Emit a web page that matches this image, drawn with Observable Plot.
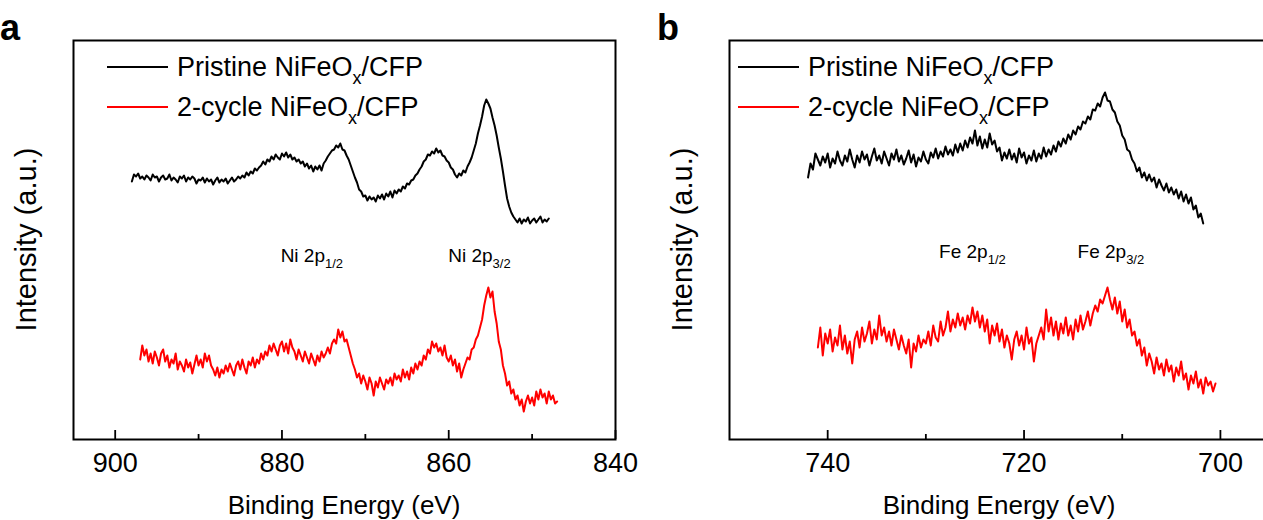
<!DOCTYPE html>
<html>
<head>
<meta charset="utf-8">
<script src="https://cdn.jsdelivr.net/npm/d3@7"></script>
<script src="https://cdn.jsdelivr.net/npm/@observablehq/plot@0.6"></script>
<style>
html, body { margin: 0; padding: 0; overflow: hidden; background: #fff; }
#root { position: relative; width: 1263px; height: 520px; overflow: hidden; }
</style>
</head>
<body>
<div id="root"></div>
<script>
// ---------- DATA ----------
const STEP = 0.25; // eV sampling step of the typed-in spectra

// Panel a: Ni 2p (Pristine, from 898 eV downwards)
const niPristineStart = 898;
const niPristine = [
  258,265,263,266,261,263,260,264,262,259,265,262,263,258,262,264,260,261,265,259,
  262,260,257,263,261,264,258,262,260,263,261,256,260,259,262,257,261,258,260,255,
  259,262,257,260,258,261,256,259,262,258,260,263,261,264,262,267,264,268,266,271,
  269,272,274,278,275,280,278,283,280,285,282,280,286,283,287,282,285,280,282,278,
  280,276,278,273,276,271,274,268,273,270,274,269,276,279,283,286,289,290,294,292,
  296,290,289,284,280,274,268,262,257,250,248,243,244,239,243,240,242,238,244,241,
  245,240,246,243,248,242,249,246,250,248,253,251,256,255,259,260,264,266,270,273,
  278,280,285,284,288,286,291,287,289,284,283,279,277,272,270,265,262,266,264,269,
  267,273,277,282,289,296,306,314,323,334,340,336,331,322,314,304,292,281,268,254,
  241,233,227,223,220,217,221,216,220,218,222,216,219,221,217,220,223,217,220,218,221];

// Panel a: Ni 2p (2-cycle, from 897 eV downwards)
const niCycleStart = 897;
const niCycle = [
  80,94,84,90,78,86,76,88,82,74,86,90,78,84,72,80,76,86,70,78,
  74,68,80,72,77,66,75,84,74,80,72,86,78,84,74,70,64,72,62,70,
  66,74,68,76,70,64,74,78,70,80,72,66,78,74,82,72,80,76,86,80,
  88,84,94,88,96,90,84,94,98,88,96,86,100,92,88,80,90,84,78,88,
  82,76,86,80,74,84,78,88,82,86,92,86,96,100,96,110,102,108,98,100,
  92,84,76,70,62,66,56,64,58,50,62,56,44,58,52,62,56,50,60,56,
  62,54,66,60,64,58,70,62,68,60,72,66,76,70,78,74,84,80,90,86,
  98,92,96,88,92,84,94,82,78,84,74,80,68,76,62,70,76,82,80,90,
  92,100,104,112,120,134,144,152,142,148,128,116,98,90,74,66,54,58,46,50,
  40,44,34,40,28,38,44,36,42,34,48,40,50,42,46,36,48,40,44,36,38];

// Panel b: Fe 2p (Pristine, from 742 eV downwards)
const fePristineStart = 742;
const fePristine = [
  262,276,270,286,280,274,283,277,286,272,281,276,288,279,274,284,278,290,280,272,
  284,277,288,280,285,274,283,291,279,284,276,288,281,274,286,280,290,278,284,275,
  281,289,277,285,273,282,278,288,280,276,287,282,291,281,288,283,293,285,290,284,
  295,287,296,289,299,292,302,296,309,294,303,291,300,292,306,295,299,288,292,279,
  287,281,290,280,286,277,291,282,287,276,284,279,289,278,286,281,292,283,290,285,
  294,288,298,293,301,296,305,300,309,305,313,310,318,316,323,320,330,329,336,333,
  342,347,339,338,330,327,318,314,304,300,290,288,280,276,268,272,262,267,259,265,
  258,262,252,260,254,249,256,247,252,245,250,241,248,238,245,236,242,230,234,222,
  226,216];

// Panel b: Fe 2p (2-cycle, from 741 eV downwards)
const feCycleStart = 741;
const feCycle = [
  92,112,84,106,96,110,88,102,94,114,90,104,86,98,76,100,108,92,112,98,
  106,118,96,110,100,124,104,112,98,108,94,110,100,90,104,94,86,100,72,96,
  88,104,92,100,96,108,94,114,102,98,118,104,112,128,108,120,112,126,114,122,
  110,124,116,132,118,128,112,124,108,120,96,114,104,116,98,110,92,104,96,80,
  100,108,94,104,90,112,96,102,78,96,104,112,100,130,108,122,104,118,100,116,
  106,122,104,114,100,120,108,124,110,118,128,114,126,134,128,140,136,144,152,140,
  130,142,126,138,118,130,112,120,104,108,94,100,84,92,74,86,78,66,82,70,
  76,64,80,68,74,58,72,64,78,60,66,50,64,56,68,52,60,46,62,54,
  58,48,56];

const seriesNames = [
  [["Pristine NiFeO", false], ["x", true], ["/CFP", false]],
  [["2-cycle NiFeO", false], ["x", true], ["/CFP", false]]
];
const seriesColors = ["#000000", "#ff0000"];

const niTicksMajor = [900, 880, 860, 840];
const niTicksMinor = [890, 870, 850];
const feTicksMajor = [740, 720, 700];
const feTicksMinor = [730, 710];

const niPeaks = [
  {name: "Ni 2p", sub: "1/2", E: 880.1, I: 177},
  {name: "Ni 2p", sub: "3/2", E: 860.0, I: 177}
];
const fePeaks = [
  {name: "Fe 2p", sub: "1/2", E: 728.6, I: 181},
  {name: "Fe 2p", sub: "3/2", E: 714.5, I: 181}
];

const xTitle = "Binding Energy (eV)";
const yTitle = "Intensity (a.u.)";

// ---------- DRAWING ----------
const FONT = '"Liberation Sans", Arial, Helvetica, sans-serif';
const H = 520, M_TOP = 40, M_BOTTOM = 81, INNER_H = H - M_TOP - M_BOTTOM;

function rows(start, arr) { return arr.map((v, i) => ({E: start - i * STEP, I: v})); }

function subText(g, x, y, parts, size, subSize, subDy, anchor) {
  const t = g.append("text").attr("x", x).attr("y", y)
    .attr("font-size", size).attr("font-family", FONT).attr("fill", "#000")
    .attr("text-anchor", anchor || "start");
  let down = false;
  parts.forEach(([s, isSub]) => {
    const ts = t.append("tspan").text(s);
    if (isSub && !down) { ts.attr("dy", subDy).attr("font-size", subSize); down = true; }
    else if (isSub) { ts.attr("font-size", subSize); }
    else if (down) { ts.attr("dy", -subDy); down = false; }
  });
  return t;
}

function panel(cfg) {
  const plot = Plot.plot({
    width: cfg.width, height: H,
    marginLeft: cfg.mLeft, marginRight: cfg.mRight, marginTop: M_TOP, marginBottom: M_BOTTOM,
    style: {fontFamily: FONT, fontSize: "27px", color: "#000", background: "transparent", overflow: "visible"},
    x: {domain: cfg.xDomain, label: null},
    y: {domain: [0, 399], axis: null},
    marks: [
      Plot.line(cfg.pristine, {x: "E", y: "I", stroke: seriesColors[0], strokeWidth: 2}),
      Plot.line(cfg.cycle, {x: "E", y: "I", stroke: seriesColors[1], strokeWidth: 2}),
      Plot.tickX(cfg.major, {x: d => d, insetTop: INNER_H - 9, stroke: "#000", strokeWidth: 1.8}),
      Plot.tickX(cfg.minor, {x: d => d, insetTop: INNER_H - 5, stroke: "#000", strokeWidth: 1.8}),
      Plot.axisX(cfg.major, {tickSize: 0, tickPadding: 13, fontSize: 27, label: null}),
      Plot.frame({stroke: "#000", strokeWidth: 2})
    ]
  });
  plot.style.position = "absolute";
  plot.style.left = cfg.left + "px";
  plot.style.top = "0px";
  document.getElementById("root").appendChild(plot);

  const svg = d3.select(plot);
  const xs = plot.scale("x"), ys = plot.scale("y");
  const g = svg.append("g");

  // panel letter
  g.append("text").attr("x", cfg.letterX).attr("y", 40).attr("font-size", 36)
    .attr("font-weight", "bold").attr("font-family", FONT).text(cfg.letter);

  // legend
  seriesNames.forEach((parts, i) => {
    const ly = 67 + i * 40;
    g.append("line").attr("x1", cfg.legX).attr("x2", cfg.legX + 61)
      .attr("y1", ly).attr("y2", ly).attr("stroke", seriesColors[i]).attr("stroke-width", 1.8);
    subText(g, cfg.legX + 70, ly + 9, parts, 27, 18, 8);
  });

  // peak annotations
  cfg.peaks.forEach(p => {
    subText(g, xs.apply(p.E), ys.apply(p.I), [[p.name, false], [p.sub, true]], 19, 13, 6);
  });

  // axis titles
  const x0 = cfg.mLeft, x1 = cfg.width - cfg.mRight;
  g.append("text").attr("x", (x0 + x1) / 2).attr("y", 514).attr("text-anchor", "middle")
    .attr("font-size", 26).attr("font-family", FONT).text(xTitle);
  g.append("text").attr("transform", `translate(${cfg.mLeft - 37},${(M_TOP + H - M_BOTTOM) / 2}) rotate(-90)`)
    .attr("text-anchor", "middle").attr("font-size", 29).attr("font-family", FONT).text(yTitle);
}

panel({
  left: 0, width: 640, mLeft: 73, mRight: 25, xDomain: [905, 840],
  pristine: rows(niPristineStart, niPristine), cycle: rows(niCycleStart, niCycle),
  major: niTicksMajor, minor: niTicksMinor, peaks: niPeaks,
  letter: "a", letterX: 10, legX: 107
});
panel({
  left: 640, width: 640, mLeft: 89, mRight: 11, xDomain: [750, 695],
  pristine: rows(fePristineStart, fePristine), cycle: rows(feCycleStart, feCycle),
  major: feTicksMajor, minor: feTicksMinor, peaks: fePeaks,
  letter: "b", letterX: 28, legX: 98
});
</script>
</body>
</html>
